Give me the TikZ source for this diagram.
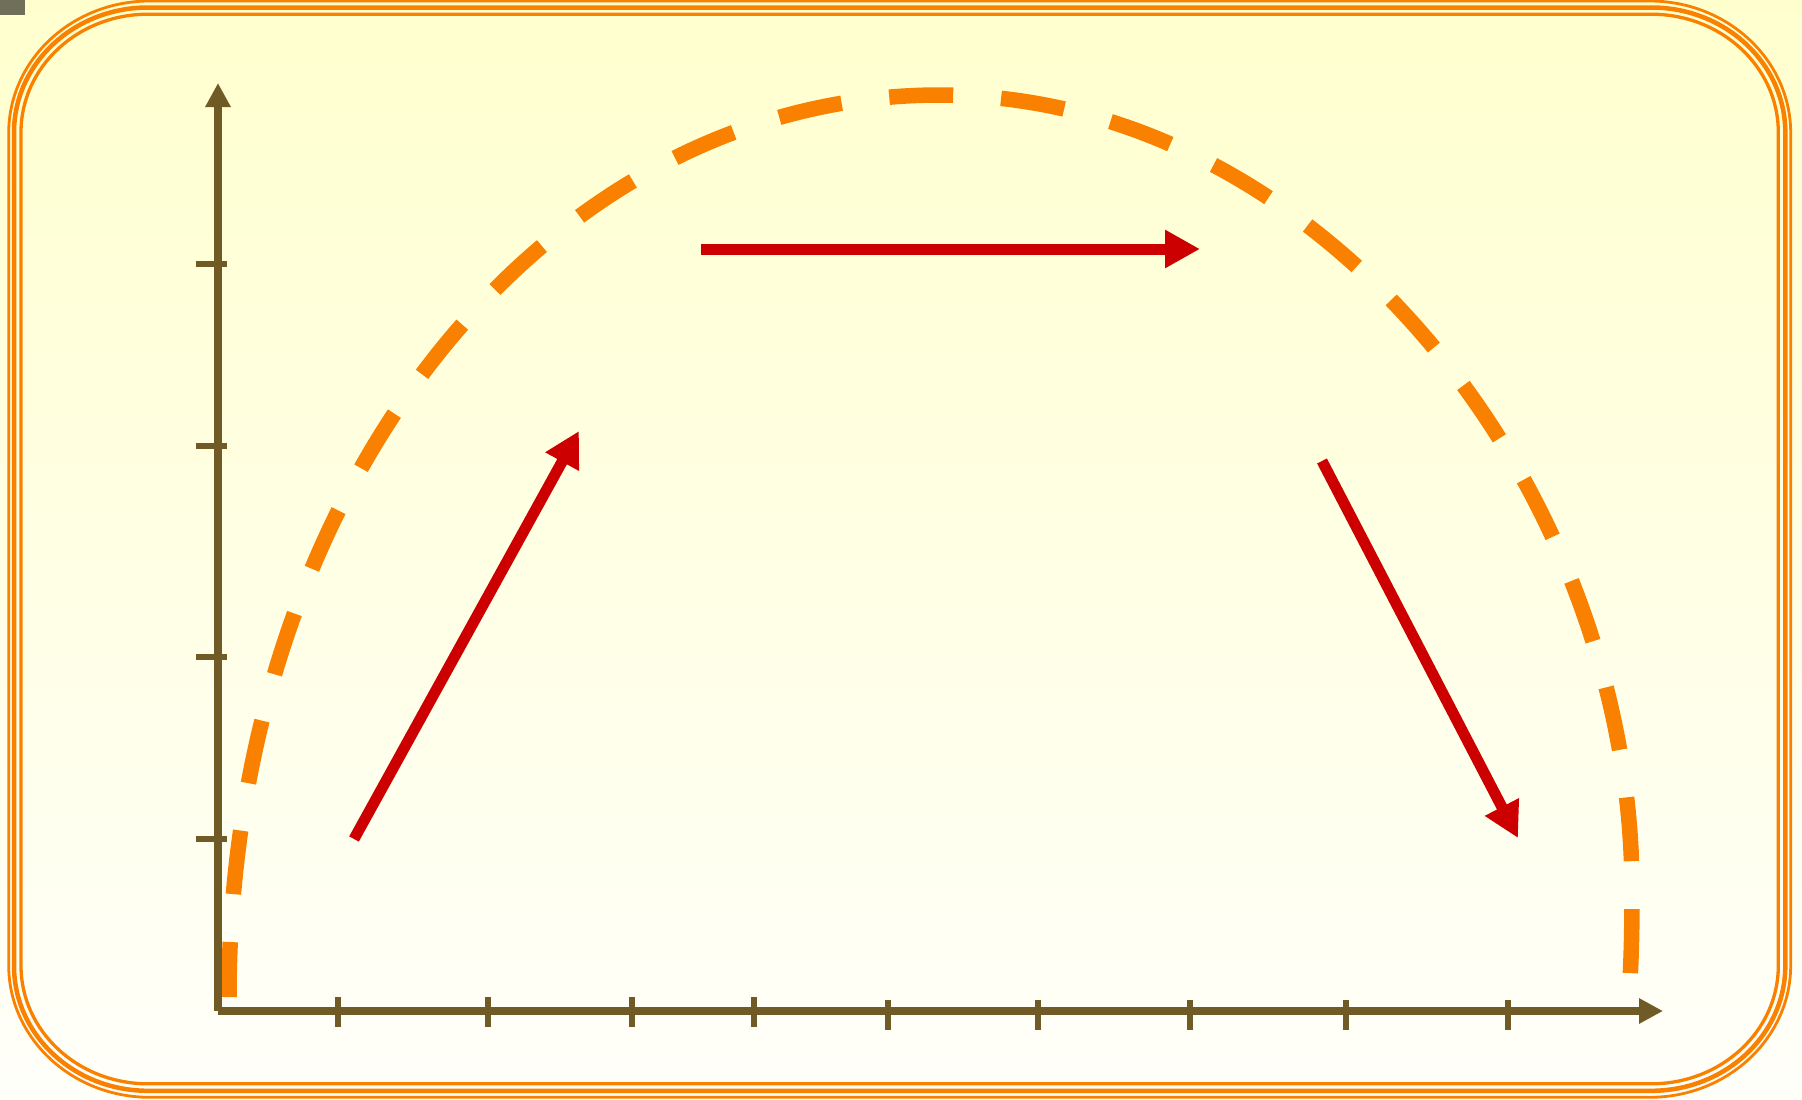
\documentclass[tikz,border=0pt]{standalone}
\usetikzlibrary{arrows.meta}
\definecolor{axisbrown}{RGB}{112,90,38}
\definecolor{frameorange}{RGB}{250,128,0}
\definecolor{vecred}{RGB}{204,0,0}
\definecolor{bgtop}{RGB}{255,255,206}
\definecolor{bgbottom}{RGB}{255,255,250}
\definecolor{markgray}{RGB}{112,112,90}
% #1 line width, #2 x1, #3 y1, #4 x2, #5 y2, #6 rx, #7 ry
\newcommand\myframeline[7]{%
  \draw[frameline,line width=#1]
    ({#2+#6},#3) -- ({#4-#6},#3)
    arc[start angle=-90,end angle=0,x radius=#6,y radius=#7]
    -- (#4,{#5-#7})
    arc[start angle=0,end angle=90,x radius=#6,y radius=#7]
    -- ({#2+#6},#5)
    arc[start angle=90,end angle=180,x radius=#6,y radius=#7]
    -- (#2,{#3+#7})
    arc[start angle=180,end angle=270,x radius=#6,y radius=#7]
    -- cycle;}
\begin{document}
\begin{tikzpicture}[x=1pt,y=-1pt,
  axis/.style={draw=axisbrown,line width=7.5pt},
  axtip/.style={-{Triangle[length=24pt,width=24pt]}},
  tickmark/.style={draw=axisbrown,line width=5.5pt},
  vec/.style={draw=vecred,line width=11pt,-{Triangle[length=35pt,width=36pt]}},
  traj/.style={draw=frameorange,line width=15.5pt,dash pattern=on 64pt off 48pt,dash phase=9pt},
  frameline/.style={draw=frameorange}]
\useasboundingbox (0,0) rectangle (1802,1100);
\shade[top color=bgtop,bottom color=bgbottom] (0,0) rectangle (1802,1100);
\fill[markgray] (0,0) rectangle (25,15);
% triple frame
\myframeline{2.8pt}{8.7}{1}{1790.7}{1097.3}{141}{132}
\myframeline{4.5pt}{14}{7.5}{1785.3}{1090.8}{134}{125}
\myframeline{3.3pt}{21}{14.2}{1778.3}{1083.8}{127}{118}
% trajectory
\coordinate (tstart) at (229,997);
\coordinate (tapex) at (940,95);
\coordinate (tside) at (1632,890);
\coordinate (tend) at (1629,997);
\draw[traj] (tstart) .. controls (229,492) and (543,95) .. (tapex)
  .. controls (1323,95) and (1632,490) .. (tside)
  .. controls (1632,940) and (1631,965) .. (tend);
% axes
\coordinate (O) at (218,1011);
\coordinate (Ytip) at (218,83);
\coordinate (Xtip) at (1663,1011);
\draw[axis,axtip] (O) -- (Ytip);
\draw[axis,axtip] (O) -- (Xtip);
\foreach \x in {338,488,632,754} \draw[tickmark] (\x,997) -- (\x,1027);
\foreach \x in {888,1038,1190,1346,1508} \draw[tickmark] (\x,1000) -- (\x,1030);
\foreach \y in {264,446,657,839} \draw[tickmark] (196,\y) -- (227,\y);
% velocity vectors
\coordinate (v1s) at (354,839);
\coordinate (v1e) at (579,431);
\coordinate (v2s) at (701,249);
\coordinate (v2e) at (1200,249);
\coordinate (v3s) at (1322,461);
\coordinate (v3e) at (1518,838);
\draw[vec] (v1s) -- (v1e);
\draw[vec] (v2s) -- (v2e);
\draw[vec] (v3s) -- (v3e);
\end{tikzpicture}
\end{document}
